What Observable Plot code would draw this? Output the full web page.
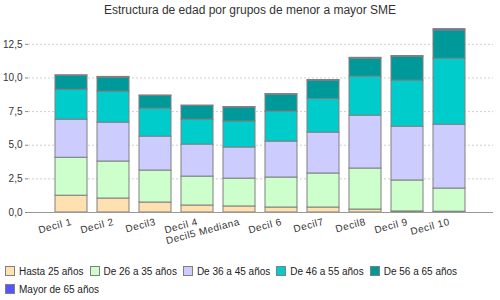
<!DOCTYPE html>
<html>
<head>
<meta charset="utf-8">
<script src="https://cdn.jsdelivr.net/npm/d3@7"></script>
<script src="https://cdn.jsdelivr.net/npm/@observablehq/plot@0.6"></script>
<style>
  html, body { margin: 0; padding: 0; background: #fff; }
  body { width: 500px; height: 300px; overflow: hidden; font-family: "Liberation Sans", Arial, sans-serif; }
  #title { height: 20px; line-height: 20px; text-align: center; font-size: 12px; color: #333; }
  #chart svg { display: block; }
  #chart g[aria-label="x-axis tick label"] text { letter-spacing: 0.5px; }
  #legend { display: flex; flex-wrap: wrap; width: 490px; padding-left: 5px; padding-top: 2px; font-size: 10px; color: #222; }
  .item { display: flex; align-items: center; height: 18px; margin-right: 6px; }
  .sw { width: 8px; height: 8px; border: 1px solid #808080; margin-right: 4px; }
</style>
</head>
<body>
<div id="title">Estructura de edad por grupos de menor a mayor SME</div>
<div id="chart"></div>
<div id="legend"></div>
<script>
const deciles = ["Decil 1","Decil 2","Decil3","Decil 4","Decil5 Mediana","Decil 6","Decil7","Decil8","Decil 9","Decil 10"];
const groups = ["Hasta 25 años","De 26 a 35 años","De 36 a 45 años","De 46 a 55 años","De 56 a 65 años","Mayor de 65 años"];
const colors = ["#FFE0B0","#CCFFCC","#CCCCFF","#00CCCC","#009999","#5555FF"];
const hasta25   = [1.25, 1.04, 0.74, 0.52, 0.45, 0.37, 0.37, 0.22, 0.08, 0.06];
const de26a35   = [2.82, 2.75, 2.38, 2.15, 2.07, 2.23, 2.53, 3.05, 2.30, 1.72];
const de36a45   = [2.83, 2.89, 2.52, 2.38, 2.31, 2.67, 3.04, 3.93, 4.00, 4.75];
const de46a55   = [2.22, 2.30, 2.08, 1.85, 1.93, 2.23, 2.49, 2.90, 3.42, 4.90];
const de56a65   = [1.03, 1.04, 0.94, 1.02, 1.04, 1.26, 1.37, 1.33, 1.78, 2.10];
const mayor65   = [0.05, 0.06, 0.04, 0.03, 0.04, 0.04, 0.05, 0.07, 0.05, 0.10];
const yTicks = [0, 2.5, 5, 7.5, 10, 12.5];

const series = [hasta25, de26a35, de36a45, de46a55, de56a65, mayor65];
const rows = [];
groups.forEach((g, gi) => deciles.forEach((d, di) => rows.push({decil: d, group: g, value: series[gi][di]})));

const chart = Plot.plot({
  width: 500,
  height: 240,
  marginTop: 5,
  marginBottom: 48,
  marginLeft: 28,
  marginRight: 7,
  style: {fontFamily: "'Liberation Sans', Arial, sans-serif", fontSize: "10px", color: "#333", background: "white"},
  x: {domain: deciles, padding: 0.24, insetLeft: 13, insetRight: 14, label: null},
  y: {domain: [0, 13.9], label: null},
  color: {domain: groups, range: colors},
  marks: [
    Plot.gridY({ticks: yTicks, stroke: "#d0d0d0", strokeOpacity: 1, strokeDasharray: "2,2"}),
    Plot.axisY({ticks: yTicks, tickFormat: d => d.toFixed(1).replace(".", ","), tickSize: 3, tickPadding: 3, stroke: "#888", label: null}),
    Plot.axisX({tickRotate: -15, tickSize: 0, tickPadding: 9, label: null}),
    Plot.barY(rows, {x: "decil", y: "value", fill: "group", order: groups, stroke: "#808080", strokeWidth: 1}),
    Plot.ruleY([0], {stroke: "#999"})
  ]
});
document.getElementById("chart").appendChild(chart);

const legend = document.getElementById("legend");
groups.forEach((g, i) => {
  const it = document.createElement("div");
  it.className = "item";
  const sw = document.createElement("div");
  sw.className = "sw";
  sw.style.background = colors[i];
  const t = document.createElement("span");
  t.textContent = g;
  it.appendChild(sw);
  it.appendChild(t);
  legend.appendChild(it);
});
</script>
</body>
</html>
